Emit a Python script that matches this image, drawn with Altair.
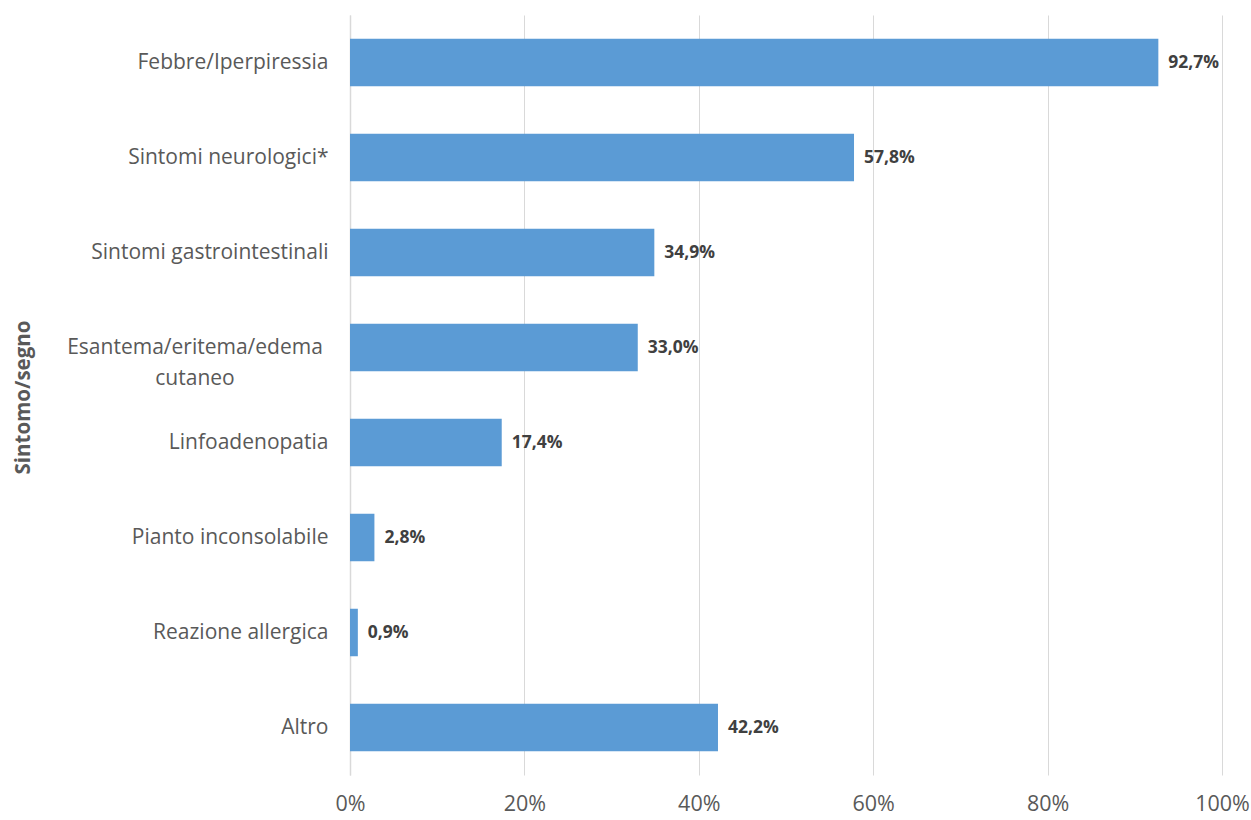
import altair as alt
import pandas as pd

categories = [
    "Febbre/Iperpiressia",
    "Sintomi neurologici*",
    "Sintomi gastrointestinali",
    "Esantema/eritema/edema cutaneo",
    "Linfoadenopatia",
    "Pianto inconsolabile",
    "Reazione allergica",
    "Altro",
]
values = [92.7, 57.8, 34.9, 33.0, 17.4, 2.8, 0.9, 42.2]

df = pd.DataFrame({"cat": categories, "val": [v / 100 for v in values]})
wrap_df = pd.DataFrame({"cat": ["Esantema/eritema/edema cutaneo"],
                        "txt": ["Esantema/eritema/edema\ncutaneo"]})

FONT = "Open Sans"
GRAY = "#595959"

y_enc = alt.Y(
    "cat:N",
    sort=categories,
    scale=alt.Scale(paddingInner=0.5, paddingOuter=0.25),
    axis=alt.Axis(
        title="Sintomo/segno",
        titleFont=FONT,
        titleFontSize=20.5,
        titleFontWeight="bold",
        titleColor=GRAY,
        titleX=-327,
        titleY=382,
        titleAngle=270,
        titleAlign="center",
        titleBaseline="middle",
        labelFont=FONT,
        labelFontSize=21,
        labelColor=GRAY,
        labelPadding=22,
        labelLimit=400,
        ticks=False,
        domain=True,
        domainColor="#d9d9d9",
        domainWidth=1.5,
        labelExpr="datum.label == 'Esantema/eritema/edema cutaneo' ? '' : datum.label",
    ),
)

x_enc = alt.X(
    "val:Q",
    scale=alt.Scale(domain=[0, 1], nice=False),
    axis=alt.Axis(
        title=None,
        format=".0%",
        values=[0, 0.2, 0.4, 0.6, 0.8, 1.0],
        grid=True,
        gridColor="#d9d9d9",
        gridWidth=1,
        domain=False,
        ticks=False,
        labelFlush=False,
        labelFont=FONT,
        labelFontSize=21.5,
        labelColor=GRAY,
        labelPadding=18,
    ),
)

bars = alt.Chart(df).mark_bar(color="#5B9BD5").encode(x=x_enc, y=y_enc)

labels = alt.Chart(df).transform_calculate(
    lab="replace(format(datum.val * 100, '.1f'), '.', ',') + '%'"
).mark_text(
    align="left", baseline="middle", dx=10, font=FONT, fontSize=17.5,
    fontWeight="bold", color="#404040"
).encode(x="val:Q", y=alt.Y("cat:N", sort=categories), text="lab:N")

wrapped = alt.Chart(wrap_df).mark_text(
    align="center", baseline="middle", font=FONT, fontSize=21, color=GRAY,
    lineBreak="\n", lineHeight=31
).encode(x=alt.value(-155), y=alt.Y("cat:N", sort=categories), text="txt:N")

chart = alt.layer(bars, labels, wrapped).properties(
    width=872,
    height=760,
    background="white",
    autosize=alt.AutoSizeParams(type="none"),
    padding={"left": 350, "top": 15, "right": 29, "bottom": 45},
).configure_view(stroke=None)

chart.save("out.html", embed_options={"renderer": "svg", "actions": False})
